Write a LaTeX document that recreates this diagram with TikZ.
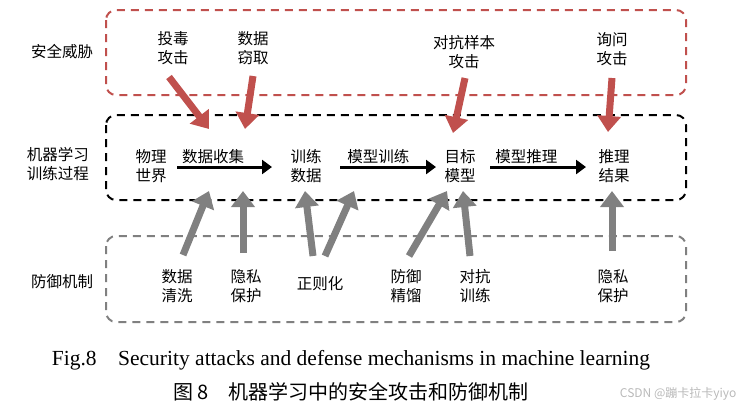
\documentclass[tikz,border=0pt]{standalone}
\usepackage{fontspec}
\setmainfont{Liberation Serif}
\newfontfamily\cjk{Noto Sans CJK SC}
\usetikzlibrary{arrows.meta}
\definecolor{atkred}{RGB}{192,80,77}
\definecolor{defgray}{RGB}{128,128,128}
\tikzset{%
  every zone/.style={
    draw,
    dashed,
    line width=2pt,
    dash pattern=on 8pt off 6pt,
    rounded corners=10pt
  },
  every label/.style={
    font=\cjk\fontsize{15.5}{19}\selectfont,
    align=center,
    inner sep=1pt
  },
  attack arrow/.style={
    draw=atkred,
    line width=7pt,
    -{Triangle[length=16pt,width=23pt]}
  },
  defense arrow/.style={
    draw=defgray,
    line width=7pt,
    -{Triangle[length=16pt,width=23pt]}
  },
  flow arrow/.style={
    draw=black,
    line width=3pt,
    -{Triangle[length=10pt,width=14pt]}
  },
}

\begin{document}
\begin{tikzpicture}[x=1pt, y=-1pt]
\useasboundingbox (0,0) rectangle (744,413);

% Zones
\draw[every zone, draw=atkred] (106,10) rectangle (686,95);
\draw[every zone, draw=black] (106,115) rectangle (686,200);
\draw[every zone, draw=defgray] (106,236) rectangle (686,322);

\node[every label] (zone-atk) at (62,52) {安全威胁};
\node[every label] (zone-ml) at (58,164) {机器学习\\训练过程};
\node[every label] (zone-def) at (62,282) {防御机制};

% Attacks
\foreach \n/\x/\y/\l in {poison/173/48/投毒\\攻击, steal/253/48/数据\\窃取, adv/464/52/对抗样本\\攻击, query/612/49/询问\\攻击}
  \node[every label] (atk-\n) at (\x,\y) {\l};

% Pipeline
\foreach \n/\x/\l in {world/151/物理\\世界, data/306/训练\\数据, model/460/目标\\模型, result/614/推理\\结果}
  \node[every label] (stage-\n) at (\x,166) {\l};

\coordinate (f1a) at (177,167); \coordinate (f1b) at (272,167);
\coordinate (f2a) at (340,167); \coordinate (f2b) at (436,167);
\coordinate (f3a) at (490,167); \coordinate (f3b) at (586,167);
\draw[flow arrow] (f1a) -- (f1b) node[every label, pos=0.38, above=1pt] (lbl-collect) {数据收集};
\draw[flow arrow] (f2a) -- (f2b) node[every label, pos=0.4, above=1pt] (lbl-train) {模型训练};
\draw[flow arrow] (f3a) -- (f3b) node[every label, pos=0.38, above=1pt] (lbl-infer) {模型推理};

% Defenses
\foreach \n/\x/\l in {clean/177/数据\\清洗, priv1/246/隐私\\保护, distill/406/防御\\精馏, advtrain/475/对抗\\训练, priv2/613/隐私\\保护}
  \node[every label] (def-\n) at (\x,286) {\l};
\node[every label] (def-reg) at (320,284) {正则化};

% Attack arrows
\coordinate (a1) at (209,129); \coordinate (a2) at (245,129);
\coordinate (a3) at (453,133); \coordinate (a4) at (608,132);
\draw[attack arrow] (169,77) -- (a1);
\draw[attack arrow] (253,76) -- (a2);
\draw[attack arrow] (465,78) -- (a3);
\draw[attack arrow] (612,78) -- (a4);

% Defense arrows
\coordinate (d1) at (209,191); \coordinate (d2) at (243,191);
\coordinate (d3) at (305,191); \coordinate (d4) at (354,191);
\coordinate (d5) at (447,191); \coordinate (d6) at (463,191);
\coordinate (d7) at (612,191);
\draw[defense arrow] (183,255) -- (d1);
\draw[defense arrow] (243,253) -- (d2);
\draw[defense arrow] (313,256) -- (d3);
\draw[defense arrow] (325,256) -- (d4);
\draw[defense arrow] (409,256) -- (d5);
\draw[defense arrow] (470,256) -- (d6);
\draw[defense arrow] (612,251) -- (d7);

% Captions
\node[font=\fontsize{21.5}{24}\selectfont] (cap-en) at (351,360) {Fig.8\quad Security attacks and defense mechanisms in machine learning};
\node[font=\cjk\fontsize{20}{23}\selectfont] (cap-zh) at (351,392) {图 8\quad 机器学习中的安全攻击和防御机制};
\node[font=\cjk\fontsize{12}{14}\selectfont, text=gray!55, anchor=east] (mark) at (740,394) {CSDN @蹦卡拉卡yiyo};
\end{tikzpicture}
\end{document}
